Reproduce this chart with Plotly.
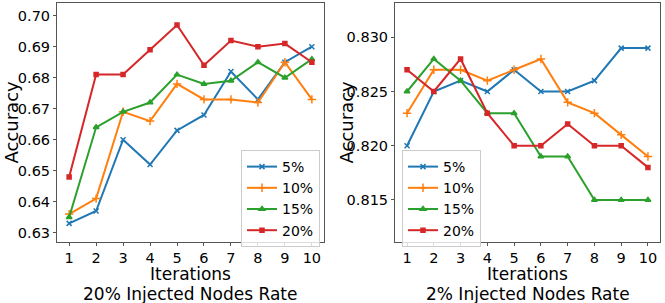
import plotly.graph_objects as go

iterations = [1, 2, 3, 4, 5, 6, 7, 8, 9, 10]
series_names = ["5%", "10%", "15%", "20%"]

# 20% Injected Nodes Rate (left)
left_5 = [0.633, 0.637, 0.660, 0.652, 0.663, 0.668, 0.682, 0.673, 0.685, 0.690]
left_10 = [0.636, 0.641, 0.669, 0.666, 0.678, 0.673, 0.673, 0.672, 0.685, 0.673]
left_15 = [0.635, 0.664, 0.669, 0.672, 0.681, 0.678, 0.679, 0.685, 0.680, 0.686]
left_20 = [0.648, 0.681, 0.681, 0.689, 0.697, 0.684, 0.692, 0.690, 0.691, 0.685]

# 2% Injected Nodes Rate (right)
right_5 = [0.820, 0.825, 0.826, 0.825, 0.827, 0.825, 0.825, 0.826, 0.829, 0.829]
right_10 = [0.823, 0.827, 0.827, 0.826, 0.827, 0.828, 0.824, 0.823, 0.821, 0.819]
right_15 = [0.825, 0.828, 0.826, 0.823, 0.823, 0.819, 0.819, 0.815, 0.815, 0.815]
right_20 = [0.827, 0.825, 0.828, 0.823, 0.820, 0.820, 0.822, 0.820, 0.820, 0.818]

left_ticks = [0.63, 0.64, 0.65, 0.66, 0.67, 0.68, 0.69, 0.70]
right_ticks = [0.815, 0.820, 0.825, 0.830]

colors = ["#1f77b4", "#ff7f0e", "#2ca02c", "#d62728"]
symbols = ["x-thin", "cross-thin", "triangle-up", "square"]
msizes = [5, 6, 5, 4]

FONT = "DejaVu Sans"
fig = go.Figure()

for panel, data, xa, ya, lg in [
    (0, [left_5, left_10, left_15, left_20], "x", "y", "legend"),
    (1, [right_5, right_10, right_15, right_20], "x2", "y2", "legend2"),
]:
    for i, name in enumerate(series_names):
        fig.add_trace(go.Scatter(
            x=iterations, y=data[i], name=name, mode="lines+markers",
            line=dict(color=colors[i], width=2),
            marker=dict(symbol=symbols[i], size=msizes[i], color=colors[i],
                        line=dict(color=colors[i], width=1.5)),
            xaxis=xa, yaxis=ya, legend=lg,
        ))

axis_common = dict(
    showgrid=False, zeroline=False, showline=True, linecolor="#555", linewidth=1,
    mirror=True, ticks="outside", ticklen=3, tickcolor="#555",
    tickfont=dict(family=FONT, size=14.5, color="black"),
)

legend_common = dict(
    yanchor="top", bgcolor="rgba(255,255,255,0.8)", bordercolor="#cccccc", borderwidth=1,
    font=dict(family=FONT, size=14, color="black"), tracegroupgap=0, itemwidth=30,
)

BOT = 242
fig.update_layout(
    width=665, height=303,
    margin=dict(l=0, r=0, t=0, b=0),
    paper_bgcolor="white", plot_bgcolor="white",
    font=dict(family=FONT, color="black"),
    xaxis=dict(domain=[57/665, 324/665], range=[0.55, 10.45], tickvals=iterations,
               anchor="y", **axis_common),
    yaxis=dict(domain=[1-BOT/303, 1-3/303], range=[0.6270, 0.7041], tickvals=left_ticks,
               tickformat=".2f", anchor="x", **axis_common),
    xaxis2=dict(domain=[395/665, 660/665], range=[0.55, 10.45], tickvals=iterations,
                anchor="y2", **axis_common),
    yaxis2=dict(domain=[1-BOT/303, 1-3/303], range=[0.81112, 0.83316], tickvals=right_ticks,
                tickformat=".3f", anchor="x2", **axis_common),
    legend=dict(x=320/665, y=1-150/303, xanchor="right", **legend_common),
    legend2=dict(x=402/665, y=1-150/303, xanchor="left", **legend_common),
    showlegend=True,
)

ymid = (1-BOT/303 + 1-3/303)/2
annotations = [
    dict(text="Accuracy", x=11/665, y=ymid, textangle=-90, size=18),
    dict(text="Accuracy", x=346/665, y=ymid, textangle=-90, size=18),
    dict(text="Iterations", x=(57+324)/2/665, y=1-274/303, size=17),
    dict(text="Iterations", x=(395+660)/2/665, y=1-274/303, size=17),
    dict(text="20% Injected Nodes Rate", x=(57+324)/2/665, y=1-293.5/303, size=17),
    dict(text="2% Injected Nodes Rate", x=(395+660)/2/665, y=1-293.5/303, size=17),
]
for a in annotations:
    fig.add_annotation(
        text=a["text"], x=a["x"], y=a["y"], xref="paper", yref="paper",
        showarrow=False, textangle=a.get("textangle", 0),
        xanchor="center", yanchor="middle", borderpad=0,
        font=dict(family=FONT, size=a["size"], color="black"),
    )

fig.write_html("out.html", config={"displayModeBar": False},
               post_script="document.body.style.margin='0px';")
